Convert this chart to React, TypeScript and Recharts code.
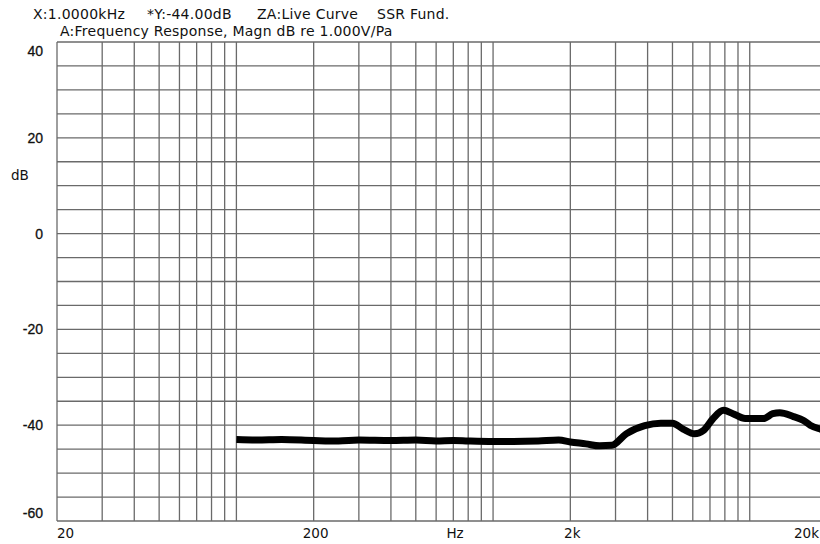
import React from 'react';
import { LineChart, Line, XAxis, YAxis, CartesianGrid } from 'recharts';

const freqs = [100, 120, 150, 200, 250, 300, 400, 500, 600, 700, 800, 1000, 1200, 1500, 1800, 2000, 2300, 2600, 2900, 3300, 3900, 4500, 5000, 5500, 6100, 6600, 7200, 7900, 8600, 9600, 11300, 12300, 13100, 14800, 16200, 17200, 18800, 20000];
const dbValues = [-43.0, -43.1, -43.0, -43.2, -43.3, -43.1, -43.2, -43.1, -43.3, -43.2, -43.3, -43.4, -43.4, -43.3, -43.1, -43.5, -43.9, -44.3, -44.2, -41.8, -40.1, -39.6, -39.6, -40.8, -41.8, -41.1, -38.6, -36.9, -37.6, -38.6, -38.6, -37.6, -37.4, -38.2, -39.0, -40.0, -40.8, -41.2];

const xGridTicks = [20, 30, 40, 50, 60, 70, 80, 90, 100, 200, 300, 400, 500, 600, 700, 800, 900, 1000, 2000, 3000, 4000, 5000, 6000, 7000, 8000, 9000, 10000, 20000];
const xLabels: Record<number, string> = { 20: '20', 200: '200', 2000: '2k', 20000: '20k' };
const yGridTicks = [-60, -55, -50, -45, -40, -35, -30, -25, -20, -15, -10, -5, 0, 5, 10, 15, 20, 25, 30, 35, 40];
const yLabels = [-60, -40, -20, 0, 20, 40];

const headerItems = ['X:1.0000kHz', '*Y:-44.00dB', 'ZA:Live Curve', 'SSR Fund.'];
const headerLine2 = 'A:Frequency Response, Magn dB re 1.000V/Pa';

const data = freqs.map((f, i) => ({ f, db: dbValues[i] }));

const FONT = 'DejaVu Sans, Verdana, sans-serif';

const XTick = (props: any) => {
  const { x, y, payload } = props;
  const v = payload.value;
  const label = xLabels[v];
  if (!label) return null;
  let anchor: 'start' | 'middle' | 'end' = 'middle';
  let dx = 2;
  if (v === 20) { anchor = 'start'; dx = 0; }
  if (v === 20000) { anchor = 'end'; dx = -8; }
  return (
    <text x={x + dx} y={y + 17} textAnchor={anchor} fontFamily={FONT} fontSize={13.5} fill="#111">
      {label}
    </text>
  );
};

const YTick = (props: any) => {
  const { x, y, payload } = props;
  const v = payload.value;
  if (!yLabels.includes(v)) return null;
  let dy = 5;
  if (v === 40) dy = 14;
  if (v === -60) dy = -3;
  return (
    <text x={x} y={y + dy} textAnchor="end" fontFamily="Liberation Sans, Arial, sans-serif" fontSize={14} fill="#111" stroke="#111" strokeWidth={0.3}>
      {v}
    </text>
  );
};

const headerX = [33, 147, 257, 377];

export default function App() {
  return (
    <div style={{ position: 'absolute', left: 0, top: 0, width: 820, height: 544, overflow: 'hidden', background: '#fff' }}>
      <LineChart width={840} height={544} data={data} margin={{ top: 42, right: 13, bottom: 0, left: 0 }}>
        <CartesianGrid stroke="#6a6a6a" strokeWidth={1.3} />
        <XAxis
          dataKey="f"
          type="number"
          scale="log"
          domain={[20, 20000]}
          ticks={xGridTicks}
          interval={0}
          allowDataOverflow
          axisLine={false}
          tickLine={false}
          tickSize={0}
          tickMargin={0}
          height={23}
          tick={<XTick />}
        />
        <YAxis
          type="number"
          domain={[-60, 40]}
          ticks={yGridTicks}
          interval={0}
          allowDataOverflow
          axisLine={false}
          tickLine={false}
          tickSize={0}
          tickMargin={14}
          width={57}
          tick={<YTick />}
        />
        <Line dataKey="db" type="monotone" stroke="#000" strokeWidth={7} dot={false} isAnimationActive={false} />
      </LineChart>
      <svg width={820} height={544} style={{ position: 'absolute', left: 0, top: 0, pointerEvents: 'none' }}>
        {headerItems.map((t, i) => (
          <text key={t} x={headerX[i]} y={18.5} fontFamily={FONT} fontSize={14} letterSpacing={0.25} fill="#111">{t}</text>
        ))}
        <text x={60} y={35.5} fontFamily={FONT} fontSize={14} letterSpacing={0.25} fill="#111">{headerLine2}</text>
        <text x={11} y={180} fontFamily={FONT} fontSize={13.5} fill="#111">dB</text>
        <text x={455} y={538} textAnchor="middle" fontFamily={FONT} fontSize={13.5} fill="#111">Hz</text>
      </svg>
    </div>
  );
}
